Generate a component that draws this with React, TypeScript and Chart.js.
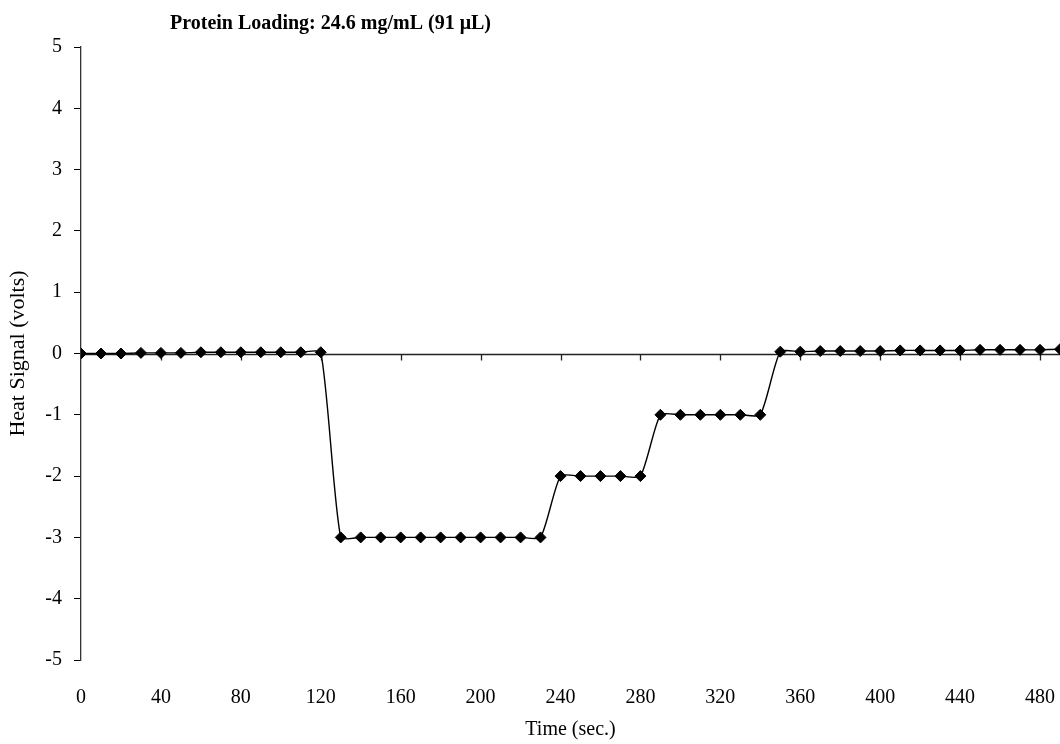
import React, { useEffect, useRef } from 'react';
import { Chart, registerables } from 'chart.js';

Chart.register(...registerables);

const TITLE = 'Protein Loading: 24.6 mg/mL (91 \u03bcL)';
const X_LABEL = 'Time (sec.)';
const Y_LABEL = 'Heat Signal (volts)';

// Sampling times (s), one reading every 10 s
const timeSec = [
  0, 10, 20, 30, 40, 50, 60, 70, 80, 90, 100, 110, 120, 130, 140, 150, 160,
  170, 180, 190, 200, 210, 220, 230, 240, 250, 260, 270, 280, 290, 300, 310,
  320, 330, 340, 350, 360, 370, 380, 390, 400, 410, 420, 430, 440, 450, 460,
  470, 480, 490,
];

// Heat signal (V) at each sampling time
const heatSignal = [
  0, 0, 0, 0.01, 0.01, 0.01, 0.02, 0.02, 0.02, 0.02, 0.02, 0.02, 0.02,
  -3, -3, -3, -3, -3, -3, -3, -3, -3, -3, -3,
  -2, -2, -2, -2, -2,
  -1, -1, -1, -1, -1, -1,
  0.03, 0.03, 0.04, 0.04, 0.04, 0.04, 0.05, 0.05, 0.05, 0.05, 0.06, 0.06,
  0.06, 0.06, 0.07,
];

const xTickValues = [0, 40, 80, 120, 160, 200, 240, 280, 320, 360, 400, 440, 480];
const yTickValues = [-5, -4, -3, -2, -1, 0, 1, 2, 3, 4, 5];

const FONT_FAMILY = '"Liberation Serif", "Times New Roman", serif';
const FONT_SIZE = 20;

// Horizontal axis line through y = 0 with downward tick marks
const zeroAxisPlugin = {
  id: 'zeroAxis',
  beforeDatasetsDraw(chart: any) {
    const { ctx, chartArea, scales } = chart;
    const xs = scales.x;
    const ys = scales.y;
    const y0 = Math.round(ys.getPixelForValue(0)) + 0.5;
    ctx.save();
    ctx.strokeStyle = '#222';
    ctx.lineWidth = 1.3;
    ctx.beginPath();
    ctx.moveTo(chartArea.left, y0);
    ctx.lineTo(chartArea.right, y0);
    for (const v of xTickValues) {
      if (v === 0) continue;
      const px = Math.round(xs.getPixelForValue(v)) + 0.5;
      ctx.moveTo(px, y0);
      ctx.lineTo(px, y0 + 6);
    }
    ctx.stroke();
    ctx.restore();
  },
};

// Bold heading above the plot
const headingPlugin = {
  id: 'heading',
  afterDraw(chart: any) {
    const { ctx, chartArea } = chart;
    ctx.save();
    ctx.fillStyle = '#000';
    ctx.font = `bold ${FONT_SIZE}px ${FONT_FAMILY}`;
    ctx.textAlign = 'left';
    ctx.textBaseline = 'middle';
    ctx.fillText(TITLE, chartArea.left + 89, 24);
    ctx.restore();
  },
};

export default function App() {
  const canvasRef = useRef<HTMLCanvasElement | null>(null);

  useEffect(() => {
    document.body.style.margin = '0';
    const canvas = canvasRef.current;
    if (!canvas) return;

    const font = { family: FONT_FAMILY, size: FONT_SIZE };

    const chart = new Chart(canvas, {
      type: 'line',
      data: {
        datasets: [
          {
            data: timeSec.map((t, i) => ({ x: t, y: heatSignal[i] })),
            borderColor: '#000',
            borderWidth: 1.4,
            tension: 0.2,
            pointStyle: 'rectRot',
            pointRadius: 5.5,
            pointBackgroundColor: '#000',
            pointBorderColor: '#000',
            pointBorderWidth: 1,
            fill: false,
          },
        ],
      },
      options: {
        animation: false,
        responsive: false,
        maintainAspectRatio: false,
        layout: { autoPadding: false, padding: { top: 47, right: 0, left: 0, bottom: 0 } },
        plugins: {
          legend: { display: false },
          tooltip: { enabled: false },
          title: { display: false },
        },
        scales: {
          x: {
            type: 'linear',
            min: 0,
            max: 490,
            afterBuildTicks: (s: any) => {
              s.ticks = xTickValues.map((v) => ({ value: v }));
            },
            afterFit: (s: any) => {
              s.height = 84;
              s.paddingLeft = 0;
              s.paddingRight = 0;
            },
            grid: { display: false, drawTicks: false },
            border: { display: false },
            ticks: {
              font,
              color: '#000',
              padding: 26,
              maxRotation: 0,
              autoSkip: false,
            },
            title: {
              display: true,
              text: X_LABEL,
              font,
              color: '#000',
              padding: { top: 0, bottom: 2 },
            },
          },
          y: {
            type: 'linear',
            min: -5,
            max: 5,
            afterBuildTicks: (s: any) => {
              s.ticks = yTickValues.map((v) => ({ value: v }));
            },
            afterFit: (s: any) => {
              s.width = 81;
            },
            grid: {
              display: true,
              drawOnChartArea: false,
              drawTicks: true,
              tickLength: 7,
              color: '#000',
              lineWidth: 1,
            },
            border: { display: true, color: '#333', width: 1.3 },
            ticks: { font, color: '#000', padding: 12 },
            title: {
              display: true,
              text: Y_LABEL,
              font: { family: FONT_FAMILY, size: 22 },
              color: '#000',
              padding: { top: 5, bottom: 0 },
            },
          },
        },
      },
      plugins: [zeroAxisPlugin, headingPlugin],
    });

    return () => chart.destroy();
  }, []);

  return (
    <div style={{ width: 1060, height: 744, position: 'relative', background: '#fff' }}>
      <canvas ref={canvasRef} width={1060} height={744} style={{ display: 'block' }} />
    </div>
  );
}
